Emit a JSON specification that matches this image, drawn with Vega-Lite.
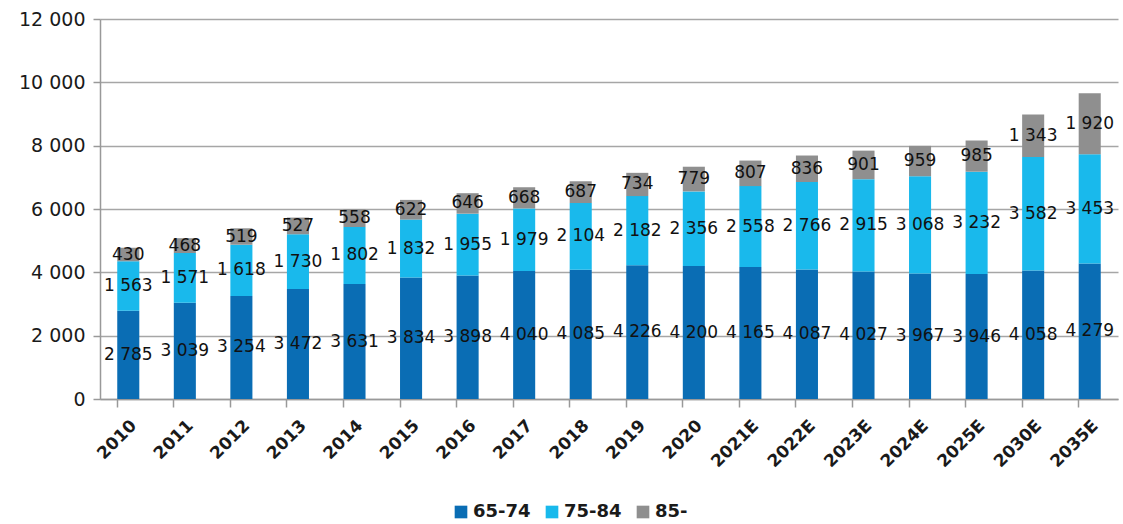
{
  "$schema": "https://vega.github.io/schema/vega-lite/v6.json",
  "width": 1018,
  "height": 380,
  "autosize": {"type": "none"},
  "padding": {"left": 100, "top": 19, "right": 5, "bottom": 125},
  "background": "white",
  "data": {
    "values": [
      {"year": "2010", "group": "65-74", "value": 2785}, {"year": "2010", "group": "75-84", "value": 1563}, {"year": "2010", "group": "85-", "value": 430},
      {"year": "2011", "group": "65-74", "value": 3039}, {"year": "2011", "group": "75-84", "value": 1571}, {"year": "2011", "group": "85-", "value": 468},
      {"year": "2012", "group": "65-74", "value": 3254}, {"year": "2012", "group": "75-84", "value": 1618}, {"year": "2012", "group": "85-", "value": 519},
      {"year": "2013", "group": "65-74", "value": 3472}, {"year": "2013", "group": "75-84", "value": 1730}, {"year": "2013", "group": "85-", "value": 527},
      {"year": "2014", "group": "65-74", "value": 3631}, {"year": "2014", "group": "75-84", "value": 1802}, {"year": "2014", "group": "85-", "value": 558},
      {"year": "2015", "group": "65-74", "value": 3834}, {"year": "2015", "group": "75-84", "value": 1832}, {"year": "2015", "group": "85-", "value": 622},
      {"year": "2016", "group": "65-74", "value": 3898}, {"year": "2016", "group": "75-84", "value": 1955}, {"year": "2016", "group": "85-", "value": 646},
      {"year": "2017", "group": "65-74", "value": 4040}, {"year": "2017", "group": "75-84", "value": 1979}, {"year": "2017", "group": "85-", "value": 668},
      {"year": "2018", "group": "65-74", "value": 4085}, {"year": "2018", "group": "75-84", "value": 2104}, {"year": "2018", "group": "85-", "value": 687},
      {"year": "2019", "group": "65-74", "value": 4226}, {"year": "2019", "group": "75-84", "value": 2182}, {"year": "2019", "group": "85-", "value": 734},
      {"year": "2020", "group": "65-74", "value": 4200}, {"year": "2020", "group": "75-84", "value": 2356}, {"year": "2020", "group": "85-", "value": 779},
      {"year": "2021E", "group": "65-74", "value": 4165}, {"year": "2021E", "group": "75-84", "value": 2558}, {"year": "2021E", "group": "85-", "value": 807},
      {"year": "2022E", "group": "65-74", "value": 4087}, {"year": "2022E", "group": "75-84", "value": 2766}, {"year": "2022E", "group": "85-", "value": 836},
      {"year": "2023E", "group": "65-74", "value": 4027}, {"year": "2023E", "group": "75-84", "value": 2915}, {"year": "2023E", "group": "85-", "value": 901},
      {"year": "2024E", "group": "65-74", "value": 3967}, {"year": "2024E", "group": "75-84", "value": 3068}, {"year": "2024E", "group": "85-", "value": 959},
      {"year": "2025E", "group": "65-74", "value": 3946}, {"year": "2025E", "group": "75-84", "value": 3232}, {"year": "2025E", "group": "85-", "value": 985},
      {"year": "2030E", "group": "65-74", "value": 4058}, {"year": "2030E", "group": "75-84", "value": 3582}, {"year": "2030E", "group": "85-", "value": 1343},
      {"year": "2035E", "group": "65-74", "value": 4279}, {"year": "2035E", "group": "75-84", "value": 3453}, {"year": "2035E", "group": "85-", "value": 1920}
    ]
  },
  "transform": [
    {"stack": "value", "groupby": ["year"], "sort": [{"field": "group", "order": "ascending"}], "as": ["v0", "v1"]},
    {"calculate": "(datum.v0 + datum.v1) / 2", "as": "vmid"}
  ],
  "encoding": {
    "x": {
      "field": "year", "type": "ordinal", "sort": null, "title": null,
      "scale": {"paddingInner": 0.61, "paddingOuter": 0.305},
      "axis": {
        "labelAngle": -45, "labelFont": "DejaVu Sans", "labelFontSize": 17, "labelFontWeight": 600,
        "labelColor": "#1a1a1a", "bandPosition": 0, "tickColor": "#999999", "tickSize": 8, "tickWidth": 1.5,
        "domainColor": "#999999", "domainWidth": 1.5, "labelPadding": 10, "grid": false
      }
    }
  },
  "layer": [
    {
      "mark": {"type": "bar"},
      "encoding": {
        "y": {
          "field": "v0", "type": "quantitative", "title": null,
          "scale": {"domain": [0, 12000]},
          "axis": {
            "values": [0, 2000, 4000, 6000, 8000, 10000, 12000], "format": ",d",
            "labelFont": "DejaVu Sans", "labelFontSize": 19, "labelFontWeight": 500, "labelColor": "#1a1a1a",
            "gridColor": "#a6a6a6", "gridWidth": 1.5, "domainColor": "#999999", "domainWidth": 1.5,
            "tickColor": "#999999", "tickSize": 7, "tickWidth": 1.5, "labelPadding": 8
          }
        },
        "y2": {"field": "v1"},
        "color": {
          "field": "group", "type": "nominal", "title": null,
          "scale": {"domain": ["65-74", "75-84", "85-"], "range": ["#0a6db4", "#19b9ec", "#8f8f8f"]},
          "legend": {
            "orient": "none", "direction": "horizontal", "legendX": 352, "legendY": 484,
            "symbolType": "square", "symbolSize": 160, "symbolStrokeWidth": 0,
            "labelFont": "DejaVu Sans", "labelFontSize": 18, "labelFontWeight": 600, "labelColor": "#1a1a1a",
            "columnPadding": 12, "labelOffset": 3
          }
        }
      }
    },
    {
      "mark": {"type": "text", "font": "DejaVu Sans", "fontSize": 17, "fontWeight": 500, "color": "#111111", "baseline": "middle", "align": "center"},
      "encoding": {
        "y": {"field": "vmid", "type": "quantitative"},
        "text": {"field": "value", "type": "quantitative", "format": ",d"}
      }
    }
  ],
  "config": {
    "locale": {"number": {"decimal": ",", "thousands": " ", "grouping": [3], "currency": ["", ""]}},
    "view": {"stroke": null}
  }
}
